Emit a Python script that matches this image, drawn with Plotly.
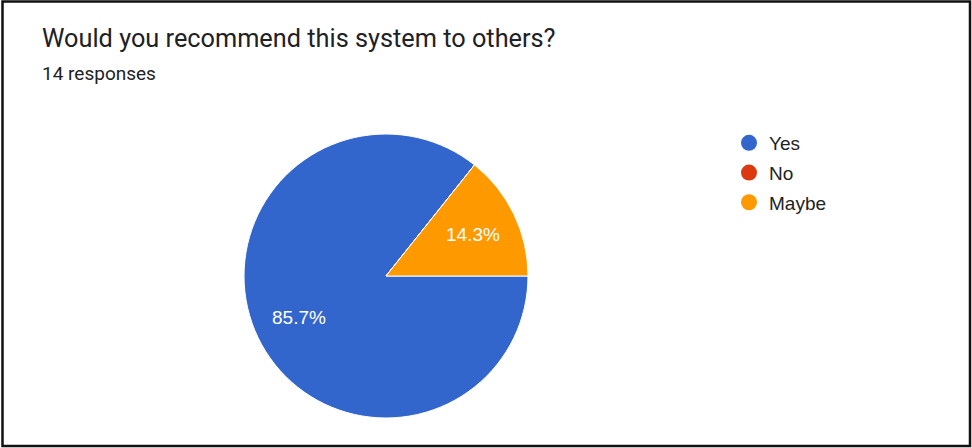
import math
import plotly.graph_objects as go

W, H = 972, 448

# Survey answers
categories = ["Yes", "No", "Maybe"]
counts = [12, 0, 2]
colors = ["#3366CC", "#DC3912", "#FF9900"]
title_text = "Would you recommend this system to others?"
subtitle_text = "14 responses"

LABEL_FONT = "Arial, Liberation Sans, sans-serif"

# Pie placement (pixels)
CX, CY, R = 386, 276, 142


def px_x(x):
    return x / W


def px_y(y):
    return 1 - y / H


fig = go.Figure()

fig.add_trace(go.Pie(
    labels=categories,
    values=counts,
    marker=dict(colors=colors, line=dict(color="white", width=1)),
    sort=False,
    direction="clockwise",
    rotation=90,
    textinfo="none",
    hoverinfo="label+value+percent",
    showlegend=False,
    domain=dict(x=[px_x(CX - R), px_x(CX + R)], y=[px_y(CY + R), px_y(CY - R)]),
))

# Percentage labels along each slice's bisector
total = sum(counts)
annotations = []
start = 0.0  # degrees clockwise from 3 o'clock
for name, v in zip(categories, counts):
    sweep = 360.0 * v / total
    if v > 0:
        mid = math.radians(start + sweep / 2)
        lx = CX + 0.68 * R * math.cos(mid)
        ly = CY + 0.68 * R * math.sin(mid)
        annotations.append(dict(
            text=f"{100 * v / total:.1f}%", x=px_x(lx), y=px_y(ly),
            xref="paper", yref="paper", xanchor="center", yanchor="middle",
            showarrow=False,
            font=dict(family=LABEL_FONT, size=19, color="white"),
        ))
    start += sweep

# Round legend bullets, one group per answer
for name, col in zip(categories, colors):
    fig.add_trace(go.Scatter(
        x=[None], y=[None], mode="markers", name=name,
        legendgroup=name,
        marker=dict(symbol="circle", size=19, color=col),
        hoverinfo="skip",
    ))

annotations += [
    dict(text=title_text, x=px_x(40), y=px_y(39), xref="paper", yref="paper",
         xanchor="left", yanchor="middle", showarrow=False,
         font=dict(family="Roboto", size=25.3, color="#202124")),
    dict(text=subtitle_text, x=px_x(40), y=px_y(73), xref="paper", yref="paper",
         xanchor="left", yanchor="middle", showarrow=False,
         font=dict(family="Roboto", size=19, color="#202124")),
]

fig.update_layout(
    width=W, height=H,
    margin=dict(l=0, r=0, t=0, b=0),
    paper_bgcolor="white",
    plot_bgcolor="white",
    xaxis=dict(visible=False),
    yaxis=dict(visible=False),
    font=dict(family="Roboto", color="#212121"),
    legend=dict(
        x=px_x(729), y=px_y(124), xanchor="left", yanchor="top",
        font=dict(family=LABEL_FONT, size=19, color="#222222"),
        tracegroupgap=2,
        itemclick=False,
        bgcolor="rgba(0,0,0,0)",
    ),
    annotations=annotations,
    shapes=[
        dict(type="rect", xref="paper", yref="paper",
             x0=px_x(2.5), x1=px_x(970), y0=px_y(446), y1=px_y(1.5),
             line=dict(color="#111111", width=2.5), fillcolor="rgba(0,0,0,0)"),
    ],
)

fig.write_html("out.html")
